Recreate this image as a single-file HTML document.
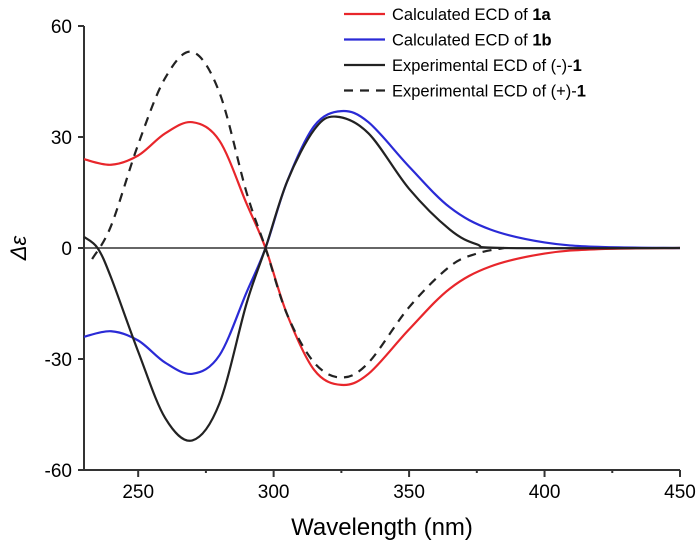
<!DOCTYPE html>
<html><head><meta charset="utf-8"><style>
body{margin:0;background:#fff}
svg text{font-family:"Liberation Sans",sans-serif}
</style></head><body>
<svg id="c" width="700" height="552" xmlns="http://www.w3.org/2000/svg"></svg>
<script>
const xTicks=[250,300,350,400,450];
const yTicks=[60,30,0,-30,-60];
const wlA=[230,240,250,260,270,280,290,297,305,315,325,335,350,365,380,400,420,450];
const calc1a=[24,22.5,25,31,34,29,12,0,-18,-33,-37,-34,-22,-11,-5,-1.5,-0.3,0];
const calc1b=[-24,-22.5,-25,-31,-34,-29,-12,0,18,33,37,34,22,11,5,1.5,0.3,0];
const wlNeg=[230,235,240,250,260,270,280,290,297,305,315,323,335,350,365,375,385,450];
const expNeg=[3,0,-8,-28,-46,-52,-42,-15,0,18,32,35.5,31,16,5,1,0,0];
const wlPos=[233,240,250,260,270,280,290,297,305,315,325,335,350,365,375,385];
const expPos=[-3,6,28,46,53,42,15,0,-18,-31,-35,-31,-16,-5,-1.5,0];
const svg=document.getElementById('c');const NS='http://www.w3.org/2000/svg';
const X=v=>84+(v-230)*(680-84)/220;
const Y=v=>248-v*(248-26)/60;
function mk(t,a,p){const e=document.createElementNS(NS,t);for(const k in a)e.setAttribute(k,a[k]);(p||svg).appendChild(e);return e;}
function path(xs,ys){const p=xs.map((x,i)=>[X(x),Y(ys[i])]);let d='M'+p[0][0]+','+p[0][1];
for(let i=0;i<p.length-1;i++){const p0=p[i-1]||p[i],p1=p[i],p2=p[i+1],p3=p[i+2]||p2;
d+=' C'+(p1[0]+(p2[0]-p0[0])/6)+','+(p1[1]+(p2[1]-p0[1])/6)+' '+(p2[0]-(p3[0]-p1[0])/6)+','+(p2[1]-(p3[1]-p1[1])/6)+' '+p2[0]+','+p2[1];}return d;}
let e;
const yb=Y(-60);
e=mk('line',{x1:84,x2:680,y1:Y(0),y2:Y(0),stroke:'#333','stroke-width':1.5});

e=mk('path',{d:'M84,'+Y(60)+' L84,'+yb+' L680,'+yb,fill:'none',stroke:'#333','stroke-width':2});

yTicks.forEach(v=>{const t=mk('line',{x1:78,x2:84,y1:Y(v),y2:Y(v),stroke:'#333','stroke-width':2});

const l=mk('text',{x:72,y:Y(v)+7,'text-anchor':'end','font-size':19});l.textContent=v;
});
for(let v=250;v<=450;v+=25){const t=mk('line',{x1:X(v),x2:X(v),y1:yb,y2:v%50?yb+3:yb+7,stroke:'#333','stroke-width':2});
}
xTicks.forEach(v=>{const l=mk('text',{x:X(v),y:yb+28,'text-anchor':'middle','font-size':19});l.textContent=v;
});
e=mk('text',{x:382,y:535,'text-anchor':'middle','font-size':24});e.textContent='Wavelength (nm)';

e=mk('text',{x:0,y:0,'text-anchor':'middle','font-size':22,'font-style':'italic','font-family':'Liberation Serif,serif',transform:'translate(26,248) rotate(-90)'});e.textContent='Δε';

const series=[[wlA,calc1a,'#e8262b','',"calc-1a-line"],[wlA,calc1b,'#2a2ad6','',"calc-1b-line"],[wlNeg,expNeg,'#222','',"exp-minus-1-line"],[wlPos,expPos,'#222','9,7',"exp-plus-1-line"]];
series.forEach(s=>{const p=mk('path',{d:path(s[0],s[1]),fill:'none',stroke:s[2],'stroke-width':2.2,'stroke-dasharray':s[3]});
});
const leg=[['Calculated ECD of ','1a','#e8262b',''],['Calculated ECD of ','1b','#2a2ad6',''],['Experimental ECD of (-)-','1','#222',''],['Experimental ECD of (+)-','1','#222','9,7']];
leg.forEach((r,i)=>{const y=14+i*25.5;const g=mk('g',{});
mk('line',{x1:344,x2:385,y1:y,y2:y,stroke:r[2],'stroke-width':2.2,'stroke-dasharray':r[3]},g);
const t=mk('text',{x:392,y:y+6,'font-size':16.5},g);t.textContent=r[0];const b=mk('tspan',{'font-weight':'bold'},t);b.textContent=r[1];});
</script>
</body></html>
